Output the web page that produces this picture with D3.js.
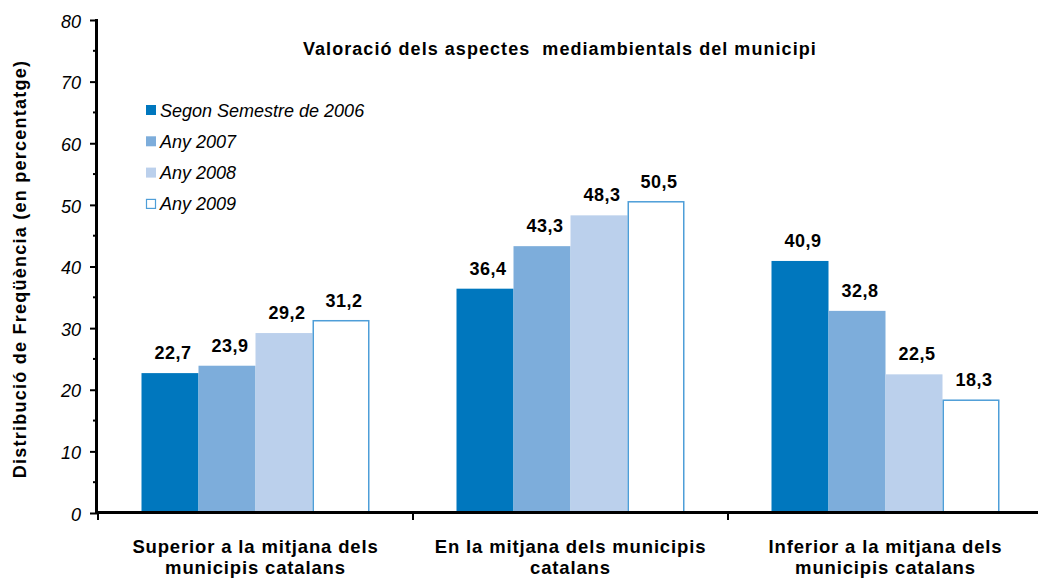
<!DOCTYPE html>
<html>
<head>
<meta charset="utf-8">
<script src="https://cdn.jsdelivr.net/npm/d3@7/dist/d3.min.js"></script>
<style>
  html, body { margin: 0; padding: 0; background: #fff; }
  svg { display: block; font-family: "Liberation Sans", Arial, sans-serif; }
</style>
</head>
<body>
<svg id="chart" width="1038" height="578"></svg>
<script>
// Categories (two-line labels) and series
const categories = [
  ["Superior a la mitjana dels", "municipis catalans"],
  ["En la mitjana dels municipis", "catalans"],
  ["Inferior a la mitjana dels", "municipis catalans"]
];
const seriesNames = ["Segon Semestre de 2006", "Any 2007", "Any 2008", "Any 2009"];
const values2006 = [22.7, 36.4, 40.9];
const values2007 = [23.9, 43.3, 32.8];
const values2008 = [29.2, 48.3, 22.5];
const values2009 = [31.2, 50.5, 18.3];
const yTicks = [0, 10, 20, 30, 40, 50, 60, 70, 80];

const seriesValues = [values2006, values2007, values2008, values2009];
const fills = ["#0077BE", "#7DADDB", "#BBD0EC", "#FFFFFF"];
const strokes = ["none", "none", "none", "#4E9ED8"];

const svg = d3.select("#chart");
const catKeys = categories.map((c, i) => i);

const x0 = d3.scaleBand().domain(catKeys).range([98, 1043]).padding(0);
const groupW = 228;
const x1 = d3.scaleBand().domain(d3.range(seriesNames.length)).range([0, groupW]).padding(0);
const y = d3.scaleLinear().domain([0, 80]).range([513, 20]);

const fmt = v => v.toFixed(1).replace(".", ",");

// Bars
const groups = svg.append("g").selectAll("g")
  .data(catKeys).join("g")
  .attr("transform", d => `translate(${x0(d) + (x0.bandwidth() - groupW) / 2},0)`);

groups.selectAll("rect")
  .data(c => seriesValues.map((vals, s) => ({ s, v: vals[c] })))
  .join("rect")
  .attr("x", d => x1(d.s) + (d.s === 3 ? 0.75 : 0))
  .attr("width", d => x1.bandwidth() - (d.s === 3 ? 1.5 : 0))
  .attr("y", d => y(d.v))
  .attr("height", d => y(0) - y(d.v))
  .attr("fill", d => fills[d.s])
  .attr("stroke", d => strokes[d.s])
  .attr("stroke-width", 1.5);

// Value labels
groups.selectAll("text.val")
  .data(c => seriesValues.map((vals, s) => ({ s, v: vals[c] })))
  .join("text")
  .attr("class", "val")
  .attr("x", d => x1(d.s) + x1.bandwidth() / 2 + 3)
  .attr("y", d => y(d.v) - 14)
  .attr("text-anchor", "middle")
  .attr("font-size", 18)
  .attr("font-weight", "bold")
  .attr("letter-spacing", 0.5)
  .attr("fill", "#000")
  .text(d => fmt(d.v));

// Y axis
const yAxis = d3.axisLeft(y).tickValues(yTicks).tickSize(7).tickPadding(9);
const gy = svg.append("g").attr("transform", "translate(97,0)").call(yAxis);
gy.select(".domain").remove();
gy.selectAll(".tick line").attr("stroke", "#000").attr("stroke-width", 2);
gy.selectAll(".tick text")
  .attr("font-family", "Liberation Sans, Arial, sans-serif")
  .attr("font-size", 18).attr("font-style", "italic").attr("fill", "#000")
  .attr("dy", "0.4em");
// minor ticks
const minor = d3.range(5, 80, 10);
svg.append("g").selectAll("line").data(minor).join("line")
  .attr("x1", 93).attr("x2", 97)
  .attr("y1", d => y(d)).attr("y2", d => y(d))
  .attr("stroke", "#000").attr("stroke-width", 2);
svg.append("line").attr("x1", 96.5).attr("x2", 96.5).attr("y1", 19).attr("y2", 514)
  .attr("stroke", "#000").attr("stroke-width", 3);

// X axis
svg.append("line").attr("x1", 95).attr("x2", 1038).attr("y1", 512.5).attr("y2", 512.5)
  .attr("stroke", "#000").attr("stroke-width", 3);
svg.append("g").selectAll("line").data(catKeys).join("line")
  .attr("x1", d => x0(d)).attr("x2", d => x0(d))
  .attr("y1", 513).attr("y2", 520)
  .attr("stroke", "#000").attr("stroke-width", 2);

// Category labels
svg.append("g").selectAll("text").data(catKeys).join("text")
  .attr("x", d => x0(d) + x0.bandwidth() / 2)
  .attr("y", 552.5)
  .attr("text-anchor", "middle")
  .attr("font-size", 18.5).attr("font-weight", "bold")
  .attr("letter-spacing", 0.85)
  .each(function (d) {
    const t = d3.select(this);
    categories[d].forEach((line, i) => {
      t.append("tspan").attr("x", x0(d) + x0.bandwidth() / 2).attr("dy", i ? 21 : 0).text(line);
    });
  });

// Y axis title
svg.append("text")
  .attr("transform", "translate(26,269) rotate(-90)")
  .attr("text-anchor", "middle")
  .attr("font-size", 18).attr("font-weight", "bold")
  .attr("letter-spacing", 1.25)
  .text("Distribució de Freqüència (en percentatge)");

// Chart title
svg.append("text")
  .attr("x", 303).attr("y", 55)
  .attr("font-size", 18).attr("font-weight", "bold")
  .attr("letter-spacing", 1.05)
  .attr("xml:space", "preserve")
  .style("white-space", "pre")
  .text("Valoració dels aspectes  mediambientals del municipi");

// Legend
const legend = svg.append("g").selectAll("g").data(seriesNames).join("g")
  .attr("transform", (d, i) => `translate(146,${105 + i * 31.3})`);
legend.append("rect")
  .attr("x", (d, i) => i === 3 ? 0.5 : 0).attr("y", (d, i) => i === 3 ? 0.5 : 0)
  .attr("width", (d, i) => i === 3 ? 9 : 10).attr("height", (d, i) => i === 3 ? 9 : 10)
  .attr("fill", (d, i) => fills[i])
  .attr("stroke", (d, i) => strokes[i]).attr("stroke-width", 1.2);
legend.append("text")
  .attr("x", 14).attr("y", 11.5)
  .attr("font-size", 18).attr("font-style", "italic")
  .text(d => d);
</script>
</body>
</html>
